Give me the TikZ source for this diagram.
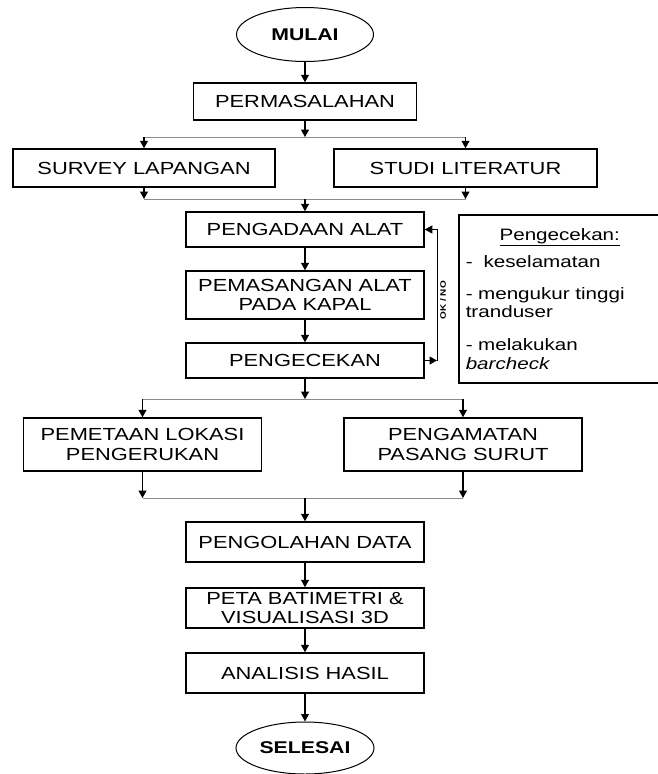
\documentclass[tikz,border=0pt]{standalone}
\usepackage{fontspec}
\usepackage{tikz}
\newfontfamily\boxfont{Liberation Sans}[FakeStretch=1.25]
\usetikzlibrary{shapes.geometric, arrows.meta, positioning}

\begin{document}
\begin{tikzpicture}[x=1pt, y=1pt, auto,
    block/.style={rectangle, draw, line width=1.5pt, minimum width=238pt, minimum height=37pt, align=center, inner sep=2pt, font=\boxfont\fontsize{17.5}{19.5}\selectfont},
    term/.style={ellipse, draw, line width=1pt, minimum width=137pt, minimum height=54pt, font=\boxfont\bfseries\fontsize{17}{19}\selectfont},
    note/.style={rectangle, draw, line width=1.5pt, text width=188pt, inner xsep=7pt, minimum height=168pt, align=left, font=\boxfont\fontsize{16.5}{18.5}\selectfont},
    branch/.style={draw=black!45, line width=0.8pt},
    arrow/.style={line width=1.2pt, -{Triangle[width=8pt,length=7.5pt]}}]
    \useasboundingbox (0,0) rectangle (658,-774);
    \node [term] (mulai) at (305,-34.5) {MULAI};
    \node [block, below of=mulai, node distance=67pt, minimum width=223pt] (masalah) {PERMASALAHAN};
    \node [block, below of=masalah, node distance=66.5pt, xshift=-161pt, minimum width=262pt, minimum height=38pt] (survey) {SURVEY LAPANGAN};
    \node [block, below of=masalah, node distance=66.5pt, xshift=160.5pt, minimum width=263pt, minimum height=38pt] (studi) {STUDI LITERATUR};
    \node [block, below of=masalah, node distance=128pt, minimum height=35pt] (adaan) {PENGADAAN ALAT};
    \node [block, below of=adaan, node distance=65.5pt, minimum height=48pt] (pasang) {PEMASANGAN ALAT\\PADA KAPAL};
    \node [block, below of=pasang, node distance=65.5pt, minimum height=35pt] (cek) {PENGECEKAN};
    \node [block, below of=cek, node distance=84pt, xshift=-162.5pt, minimum height=53pt] (lokasi) {PEMETAAN LOKASI\\PENGERUKAN};
    \node [block, below of=cek, node distance=84pt, xshift=158pt, minimum height=53pt] (surut) {PENGAMATAN\\PASANG SURUT};
    \node [block, below of=cek, node distance=181.5pt, minimum height=40pt] (olah) {PENGOLAHAN DATA};
    \node [block, below of=olah, node distance=66pt, minimum height=40pt] (peta) {PETA BATIMETRI \&\\VISUALISASI 3D};
    \node [block, below of=peta, node distance=65pt, minimum height=40pt] (hasil) {ANALISIS HASIL};
    \node [term, below of=hasil, node distance=75pt, minimum height=52pt] (selesai) {SELESAI};
    \node [note, anchor=north west] (catatan) at (458,-214) {{\centering\underline{Pengecekan:}\par}\vspace{8.5pt}
        -\ \ keselamatan\par\vspace{13.5pt}
        - mengukur tinggi\\tranduser\par\vspace{14.5pt}
        - melakukan\\\textit{barcheck}};

    \coordinate [below of=masalah, node distance=35.5pt] (pisah1);
    \coordinate [below of=masalah, node distance=97.5pt] (gabung1);
    \coordinate [below of=cek, node distance=38.5pt] (pisah2);
    \coordinate [below of=cek, node distance=137.5pt] (gabung2);
    \coordinate [right of=cek, node distance=132pt] (balik);

    \draw [arrow] (mulai) -- (masalah);
    \draw [arrow] (masalah) -- (pisah1);
    \draw [branch] (survey |- pisah1) -- (studi |- pisah1);
    \draw [arrow] (survey |- pisah1) -- (survey);
    \draw [arrow] (studi |- pisah1) -- (studi);
    \draw [arrow] (survey) -- (survey |- gabung1);
    \draw [arrow] (studi) -- (studi |- gabung1);
    \draw [branch] (survey |- gabung1) -- (studi |- gabung1);
    \draw [arrow] (gabung1) -- (adaan);
    \draw [arrow] (adaan) -- (pasang);
    \draw [arrow] (pasang) -- (cek);
    \draw [arrow] (cek) -- (balik);
    \draw [arrow, line width=1pt] (balik) |- node[pos=0.23, rotate=90, anchor=north, inner sep=2.5pt, font=\boxfont\bfseries\fontsize{8}{9}\selectfont]{OK / NO} (adaan);
    \draw [arrow] (cek) -- (pisah2);
    \draw [branch] (lokasi |- pisah2) -- (surut |- pisah2);
    \draw [arrow] (lokasi |- pisah2) -- (lokasi);
    \draw [arrow] (surut |- pisah2) -- (surut);
    \draw [arrow] (lokasi) -- (lokasi |- gabung2);
    \draw [arrow] (surut) -- (surut |- gabung2);
    \draw [branch] (lokasi |- gabung2) -- (surut |- gabung2);
    \draw [arrow] (gabung2) -- (olah);
    \draw [arrow] (olah) -- (peta);
    \draw [arrow] (peta) -- (hasil);
    \draw [arrow] (hasil) -- (selesai);
\end{tikzpicture}
\end{document}
